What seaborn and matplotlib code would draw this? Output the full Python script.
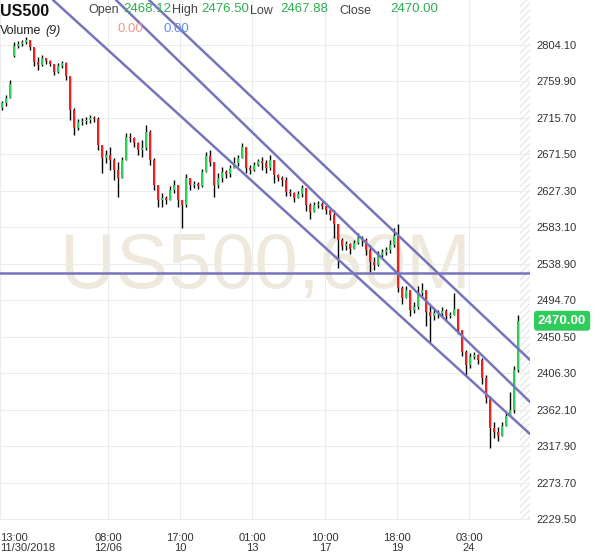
import numpy as np
import pandas as pd
import matplotlib
matplotlib.use('Agg')
import matplotlib.pyplot as plt
import matplotlib.transforms as mtransforms
import seaborn as sns

# candles (one bar every ~4 px of the original)
closes = [2733.8, 2739.9, 2756.8, 2802.9, 2805.3, 2807.7, 2810.1, 2801.7, 2783.5, 2779.9,
          2788.3, 2784.7, 2781.1, 2771.4, 2778.6, 2782.3, 2766.5, 2725.3, 2703.5, 2710.8,
          2712.0, 2713.2, 2715.6, 2714.4, 2682.9, 2667.2, 2670.8, 2664.8, 2652.6, 2643.0,
          2664.8, 2692.6, 2691.4, 2685.4, 2676.9, 2679.3, 2698.7, 2664.8, 2634.5, 2616.3,
          2618.7, 2616.3, 2628.4, 2634.5, 2616.3, 2610.2, 2643.0, 2634.5, 2635.7, 2633.3,
          2650.2, 2669.6, 2662.3, 2634.5, 2643.0, 2650.2, 2647.8, 2655.1, 2661.1, 2667.2,
          2680.5, 2655.1, 2652.6, 2658.7, 2663.5, 2661.1, 2655.1, 2664.8, 2646.6, 2643.0,
          2640.5, 2626.0, 2625.2, 2618.7, 2623.6, 2630.8, 2610.2, 2601.8, 2610.2, 2611.5,
          2609.0, 2604.2, 2598.1, 2587.2, 2567.8, 2560.6, 2563.0, 2556.9, 2564.2, 2570.3,
          2567.8, 2555.7, 2541.2, 2537.6, 2549.7, 2553.3, 2555.7, 2561.8, 2572.7, 2509.7,
          2497.6, 2507.3, 2483.0, 2486.7, 2503.6, 2507.3, 2480.6, 2475.8, 2479.4, 2478.2,
          2481.8, 2475.8, 2477.0, 2484.2, 2458.8, 2432.2, 2416.4, 2426.1, 2428.5, 2422.5,
          2400.7, 2376.4, 2340.1, 2335.2, 2330.4, 2342.5, 2354.6, 2361.9, 2410.3, 2470.0]
highs = [2736.2, 2743.5, 2761.7, 2807.7, 2808.9, 2810.1, 2813.8, 2810.1, 2800.4, 2789.5,
         2792.0, 2788.3, 2785.9, 2781.1, 2782.3, 2784.7, 2783.5, 2764.1, 2727.8, 2714.4,
         2715.6, 2716.9, 2719.3, 2718.1, 2716.9, 2682.9, 2676.9, 2680.5, 2667.2, 2662.3,
         2668.4, 2697.5, 2697.5, 2692.6, 2686.6, 2689.0, 2707.2, 2701.1, 2667.2, 2634.5,
         2624.8, 2621.1, 2633.3, 2640.5, 2633.3, 2616.3, 2647.8, 2643.0, 2639.3, 2638.1,
         2653.9, 2674.5, 2676.9, 2662.3, 2649.0, 2656.3, 2652.6, 2658.7, 2668.4, 2670.8,
         2685.4, 2680.5, 2658.7, 2662.3, 2666.0, 2668.4, 2664.8, 2670.8, 2664.8, 2647.8,
         2645.4, 2644.2, 2629.6, 2626.0, 2627.2, 2634.5, 2630.8, 2612.7, 2613.9, 2615.1,
         2613.9, 2607.8, 2605.4, 2604.2, 2586.0, 2570.3, 2566.6, 2564.2, 2567.8, 2576.3,
         2572.7, 2570.3, 2561.8, 2547.2, 2554.5, 2556.9, 2559.4, 2567.8, 2582.4, 2587.2,
         2512.1, 2512.1, 2504.8, 2492.7, 2512.1, 2515.7, 2507.3, 2487.9, 2485.5, 2483.0,
         2486.7, 2484.2, 2480.6, 2503.6, 2483.0, 2458.8, 2434.6, 2430.9, 2432.2, 2429.7,
         2424.9, 2404.3, 2378.8, 2347.3, 2341.3, 2347.3, 2359.5, 2383.7, 2415.2, 2476.5]
lows = [2725.3, 2730.2, 2739.9, 2789.5, 2800.4, 2802.9, 2805.3, 2798.0, 2778.6, 2773.8,
        2778.6, 2781.1, 2778.6, 2767.7, 2770.2, 2776.2, 2761.7, 2713.2, 2695.0, 2701.1,
        2707.2, 2708.4, 2709.6, 2710.8, 2676.9, 2649.0, 2661.1, 2652.6, 2640.5, 2619.9,
        2650.2, 2664.8, 2686.6, 2680.5, 2670.8, 2668.4, 2676.9, 2658.7, 2628.4, 2607.8,
        2607.8, 2611.5, 2618.7, 2624.8, 2607.8, 2582.4, 2607.8, 2628.4, 2630.8, 2629.6,
        2632.0, 2652.6, 2657.5, 2619.9, 2630.8, 2638.1, 2643.0, 2644.2, 2655.1, 2657.5,
        2673.2, 2649.0, 2647.8, 2651.4, 2657.5, 2652.6, 2649.0, 2652.6, 2636.9, 2639.3,
        2633.3, 2621.1, 2621.1, 2613.9, 2618.7, 2619.9, 2603.0, 2593.3, 2603.0, 2606.6,
        2605.4, 2599.3, 2592.1, 2570.3, 2533.9, 2555.7, 2555.7, 2550.9, 2556.9, 2563.0,
        2560.6, 2549.7, 2529.1, 2531.5, 2536.3, 2547.2, 2549.7, 2552.1, 2559.4, 2504.8,
        2490.3, 2497.6, 2475.8, 2479.4, 2484.2, 2500.0, 2463.7, 2443.1, 2470.9, 2473.3,
        2474.6, 2469.7, 2473.3, 2477.0, 2454.0, 2427.3, 2404.3, 2412.8, 2423.7, 2417.6,
        2393.4, 2370.4, 2315.9, 2328.0, 2324.3, 2330.4, 2343.7, 2358.0, 2358.0, 2407.9]
first_open = 2727.8
gap_bar = 3          # weekend gap 11/30 -> 12/03
gap_open = 2790.8

price_ticks = [2229.50, 2273.70, 2317.90, 2362.10, 2406.30, 2450.50, 2494.70,
               2538.90, 2583.10, 2627.30, 2671.50, 2715.70, 2759.90, 2804.10]
time_pos = [-0.5, 26.5, 44.5, 62.5, 80.75, 98.75, 116.75]
time_labels = ['13:00\n11/30/2018', '08:00\n12/06', '17:00\n10', '01:00\n13',
               '10:00\n17', '18:00\n19', '03:00\n24']

# drawn lines: horizontal level and the three channel lines (start / end bar, price)
level_price = 2528.3
chan_x0 = [36.75, 28.5, 12.75]
chan_p0 = [2858.6, 2858.6, 2858.6]
chan_x1 = [132.0, 132.0, 132.0]
chan_p1 = [2422.5, 2371.6, 2332.8]

last_price = 2470.00
header_labels = ['Open', 'High', 'Low', 'Close']
header_values = ['2468.12', '2476.50', '2467.88', '2470.00']

sns.set_theme(style='white')
plt.rcParams['font.family'] = ['Liberation Sans', 'DejaVu Sans']

RED = '#f0201c'
GREEN = '#2fcb5b'
LINE = '#7674bd'

n = len(closes)
bars = np.arange(n)
closes_a = np.array(closes)
opens_a = np.r_[first_open, closes_a[:-1]]
opens_a[gap_bar] = gap_open
highs_a = np.maximum(np.array(highs), np.maximum(opens_a, closes_a))
lows_a = np.minimum(np.array(lows), np.minimum(opens_a, closes_a))
up = closes_a >= opens_a

fig = plt.figure(figsize=(6, 5.58), dpi=100)
ax = fig.add_axes([0, 38 / 558, 530 / 600, 520 / 558])

# watermark
ax.text(0.5, 0.485, 'US500,60M', transform=ax.transAxes, ha='center', va='center',
        fontsize=56, color='#efe9dd', zorder=0)

# future area hatch
ax.axvspan(129.6, 132.5, facecolor='none', edgecolor='#e8e8e8', hatch='/////', lw=0, zorder=0.5)

# candles
ax.vlines(bars, lows_a, highs_a, color='black', lw=1.0, zorder=2)
body = np.where(np.abs(closes_a - opens_a) < 0.8, 0.8, closes_a - opens_a)
ax.bar(bars, body, bottom=opens_a, width=0.45, color=np.where(up, GREEN, RED),
       linewidth=0, zorder=3)

# channel + level lines
chan = pd.DataFrame({
    'bar': chan_x0 + chan_x1,
    'price': chan_p0 + chan_p1,
    'line': [0, 1, 2, 0, 1, 2],
})
sns.lineplot(data=chan, x='bar', y='price', units='line', estimator=None,
             color=LINE, lw=1.8, ax=ax, zorder=4)
ax.axhline(level_price, color=LINE, lw=1.8, zorder=4)

ax.set_xlim(-0.5, 132.0)
ax.set_ylim(2228.6, 2858.6)
ax.set_xlabel('')
ax.set_ylabel('')

ax.yaxis.tick_right()
ax.set_yticks(price_ticks)
ax.set_yticklabels([f'{p:.2f}' for p in price_ticks])
ax.set_xticks(time_pos)
ax.set_xticklabels(time_labels, linespacing=0.95)
ax.get_xticklabels()[0].set_ha('left')
ax.tick_params(axis='y', length=0, pad=4.5, labelsize=8, labelcolor='#333333')
ax.tick_params(axis='x', length=0, pad=9.5, labelsize=8, labelcolor='#333333')
ax.grid(True, color='#ececec', lw=0.8, zorder=0)
ax.set_axisbelow(True)
for s in ax.spines.values():
    s.set_visible(False)

# last price tag
trans = mtransforms.blended_transform_factory(ax.transAxes, ax.transData)
ax.text(1.0 + 8 / 530, last_price, f'{last_price:.2f}', transform=trans, ha='left', va='center',
        fontsize=9.5, fontweight='bold', color='white', clip_on=False, zorder=6,
        bbox=dict(boxstyle='round,pad=0.3,rounding_size=0.25', fc=GREEN, ec='none'))

# header
def fx(px):
    return px / 600

def fy(py):
    return 1 - py / 558

fig.text(fx(0), fy(11), 'US500', fontsize=11.5, fontweight='bold', color='#111111', va='center')
label_x = [88, 172, 250, 339]
value_x = [123, 201, 280, 390]
for lab, val, lx, vx in zip(header_labels, header_values, label_x, value_x):
    fig.text(fx(lx), fy(10.5), lab, fontsize=9, color='#444444', va='center')
    fig.text(fx(vx), fy(8.5), val, fontsize=9.5, color='#2bb04f', va='center')
fig.text(fx(0), fy(31), 'Volume', fontsize=9, color='#222222', va='center')
fig.text(fx(45), fy(31), '(9)', fontsize=9, color='#222222', va='center', style='italic')
fig.text(fx(117), fy(29), '0.00', fontsize=9.5, color='#ee9a90', va='center')
fig.text(fx(163), fy(29), '0.00', fontsize=9.5, color='#5b8ee6', va='center')

fig.savefig('out.png', dpi=100)
